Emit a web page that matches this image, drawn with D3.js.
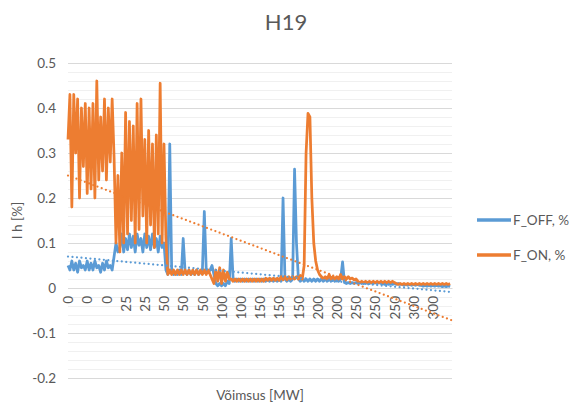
<!DOCTYPE html>
<html>
<head>
<meta charset="utf-8">
<script src="https://cdn.jsdelivr.net/npm/d3@7"></script>
<style>
  body { margin: 0; background: #fff; }
  text { font-family: Lato, "Open Sans", sans-serif; fill: #595959; }
</style>
</head>
<body>
<div id="chart"></div>
<script>
// category labels shown on the x axis (one every 10 points)
var xLabels = ["0", "0", "0", "25", "25", "50", "50", "50", "100", "100", "150", "150", "150", "200", "200", "250", "250", "250", "300", "300"]
var yTickValues = [-0.2, -0.1, 0, 0.1, 0.2, 0.3, 0.4, 0.5]

// F_OFF, %
var offValues = [
  0.05, 0.04, 0.06, 0.04, 0.055, 0.035, 0.06, 0.045, 0.05, 0.04, 0.06, 0.04, 0.055, 0.04, 0.06, 0.045, 0.05, 0.035, 0.055, 0.04, 0.06, 0.045, 0.05, 0.04,
  0.07, 0.1, 0.08,
  0.09, 0.12, 0.08, 0.11, 0.085, 0.12, 0.09, 0.115, 0.08, 0.12, 0.095, 0.11, 0.08, 0.12, 0.09, 0.115, 0.085, 0.12, 0.09, 0.11, 0.08, 0.115, 0.09, 0.1,
  0.04, 0.03,
  0.32,
  0.04, 0.03, 0.035, 0.03, 0.04, 0.03,
  0.11,
  0.035, 0.03, 0.04, 0.03, 0.035, 0.03, 0.04, 0.03, 0.035, 0.04,
  0.17,
  0.04, 0.035, 0.04,
  0.05, 0.03,
  0.01, 0.005, 0.01, 0.005, 0.01, 0.005, 0.015, 0.01,
  0.11,
  0.02, 0.015, 0.02, 0.015, 0.02, 0.015, 0.02, 0.015, 0.02, 0.015, 0.02, 0.015, 0.02, 0.015, 0.02, 0.015, 0.02, 0.015, 0.02, 0.015, 0.02, 0.015, 0.02, 0.015, 0.02, 0.015,
  0.2,
  0.02, 0.015, 0.02, 0.015, 0.02,
  0.264, 0.1, 0.02,
  0.015, 0.02, 0.015, 0.02, 0.015, 0.02, 0.015, 0.02, 0.015, 0.02, 0.015, 0.02, 0.015, 0.02, 0.015, 0.02, 0.015, 0.02, 0.015, 0.02, 0.015, 0.02,
  0.058,
  0.012, 0.01, 0.012, 0.01, 0.012, 0.01, 0.012, 0.01, 0.012, 0.01,
  0.012, 0.01, 0.012, 0.01, 0.012, 0.01, 0.012, 0.01, 0.012, 0.01,
  0.01, 0.008, 0.01, 0.008, 0.01, 0.008, 0.01, 0.008, 0.01, 0.008,
  0.008, 0.006, 0.008, 0.006, 0.008, 0.006, 0.008, 0.006, 0.008, 0.006,
  0.006, 0.004, 0.006, 0.004, 0.006, 0.004, 0.006, 0.004, 0.006, 0.004,
  0.005, 0.003, 0.005, 0.003, 0.005, 0.003
]

// F_ON, %
var onValues = [
  0.33, 0.43, 0.18, 0.43, 0.3, 0.42, 0.2, 0.4, 0.27, 0.41, 0.21, 0.4, 0.22, 0.41, 0.2, 0.46, 0.24, 0.38, 0.26, 0.42, 0.24, 0.4, 0.28, 0.42,
  0.29, 0.1, 0.25, 0.08,
  0.3, 0.1, 0.39, 0.12, 0.37, 0.15, 0.36, 0.1, 0.41, 0.13, 0.42, 0.16, 0.33, 0.1, 0.35, 0.14, 0.32, 0.09, 0.34, 0.12, 0.455, 0.1, 0.32, 0.11,
  0.03,
  0.04, 0.03, 0.04, 0.03, 0.04, 0.03, 0.04, 0.03, 0.04, 0.03, 0.04, 0.03, 0.04, 0.03, 0.04, 0.03, 0.04, 0.03, 0.04, 0.03, 0.04, 0.03,
  0.02, 0.01, 0.04, 0.015, 0.045, 0.01, 0.04, 0.015, 0.035, 0.02,
  0.02, 0.015, 0.02, 0.015, 0.02, 0.015, 0.02, 0.015, 0.02, 0.015,
  0.02, 0.015, 0.02, 0.015, 0.02, 0.015, 0.02, 0.015, 0.022, 0.017,
  0.022, 0.017, 0.022, 0.017, 0.022, 0.017, 0.025, 0.018, 0.025, 0.018,
  0.025, 0.02, 0.025, 0.02, 0.025, 0.02, 0.028, 0.02,
  0.05, 0.3, 0.388, 0.38, 0.2, 0.1, 0.06, 0.04, 0.03,
  0.025, 0.02, 0.025, 0.02, 0.03, 0.02, 0.025, 0.02, 0.025, 0.02, 0.03, 0.02, 0.025, 0.02, 0.025, 0.02, 0.022, 0.018, 0.02,
  0.015, 0.012, 0.015, 0.012, 0.015, 0.012, 0.015, 0.012, 0.015, 0.012, 0.015, 0.012, 0.015, 0.012, 0.015, 0.012, 0.015, 0.012, 0.015, 0.012,
  0.01, 0.008, 0.01, 0.008, 0.01, 0.008, 0.01, 0.008, 0.01, 0.008, 0.01, 0.008, 0.01, 0.008, 0.01, 0.008, 0.01, 0.008, 0.01, 0.008, 0.01, 0.008, 0.01, 0.008, 0.01, 0.008, 0.01, 0.008, 0.01
]

// linear trendline end values (start, end)
var trendOff = [0.07, -0.009]
var trendOn = [0.25, -0.072]

var seriesNames = ["F_OFF, %", "F_ON, %"]
var colors = ["#5B9BD5", "#ED7D31"]

var W = 578, H = 411
var margin = { top: 63, right: 126, bottom: 33, left: 68 },
    width = W - margin.left - margin.right,
    height = H - margin.top - margin.bottom

var svg = d3.select("#chart")
  .append("svg")
  .attr("width", W)
  .attr("height", H)

var g = svg.append("g")
  .attr("transform", "translate(" + margin.left + "," + margin.top + ")")

var n = offValues.length
var x = d3.scaleLinear().domain([0, n]).range([0, width])
var y = d3.scaleLinear().domain([-0.2, 0.5]).range([height, 0])

// minor gridlines
g.append("g")
  .selectAll("line")
  .data(d3.range(-0.2, 0.5001, 0.02))
  .enter().append("line")
  .attr("x1", 0).attr("x2", width)
  .attr("y1", function(d) { return Math.round(y(d)) + 0.5 })
  .attr("y2", function(d) { return Math.round(y(d)) + 0.5 })
  .attr("stroke", "#f0f0f0")

// major gridlines + y labels
var yAxis = g.append("g")
  .call(d3.axisLeft(y).tickValues(yTickValues).tickSize(-width).tickPadding(12)
    .tickFormat(function(d) { return String(+d.toFixed(1)) }))
yAxis.select(".domain").remove()
yAxis.selectAll("line").attr("stroke", "#d9d9d9")
yAxis.selectAll("text")
  .style("font-size", "13.5px")
  .style("font-family", "Lato, sans-serif")
  .attr("fill", "#595959")

// x axis labels at the zero line
var labelStep = n / xLabels.length
var xAxis = g.append("g")
  .attr("transform", "translate(0," + y(0) + ")")
  .call(d3.axisBottom(x)
    .tickValues(d3.range(xLabels.length).map(function(k) { return k * labelStep }))
    .tickSize(0)
    .tickFormat(function(d, k) { return xLabels[k] }))
xAxis.select(".domain").attr("stroke", "#d9d9d9")
xAxis.selectAll("text")
  .attr("transform", "rotate(-90)")
  .attr("x", -8)
  .attr("y", 0)
  .attr("dy", "0.35em")
  .style("text-anchor", "end")
  .style("font-size", "13.5px")
  .style("font-family", "Lato, sans-serif")
  .attr("fill", "#595959")

var line = d3.line()
  .x(function(d, i) { return x(i) })
  .y(function(d) { return y(d) })

// series lines
;[offValues, onValues].forEach(function(vals, s) {
  g.append("path")
    .datum(vals)
    .attr("fill", "none")
    .attr("stroke", colors[s])
    .attr("stroke-width", 2.75)
    .attr("stroke-linejoin", "round")
    .attr("d", line)
})

// dotted trendlines
;[trendOff, trendOn].forEach(function(t, s) {
  g.append("line")
    .attr("x1", x(0)).attr("x2", x(n))
    .attr("y1", y(t[0])).attr("y2", y(t[1]))
    .attr("stroke", colors[s])
    .attr("stroke-width", 2.25)
    .attr("stroke-linecap", "round")
    .attr("stroke-dasharray", "0,4.5")
})

// title + axis titles
svg.append("text")
  .attr("x", 286).attr("y", 30)
  .attr("text-anchor", "middle")
  .style("font-size", "22px")
  .text("H19")

svg.append("text")
  .attr("transform", "translate(22," + (margin.top + height / 2) + ") rotate(-90)")
  .attr("text-anchor", "middle")
  .style("font-size", "13.5px")
  .text("I h [%]")

svg.append("text")
  .attr("x", margin.left + width / 2).attr("y", 400)
  .attr("text-anchor", "middle")
  .style("font-size", "13.5px")
  .text("Võimsus [MW]")

// legend
var legend = svg.append("g")
seriesNames.forEach(function(name, s) {
  var ly = 220 + s * 35
  legend.append("line")
    .attr("x1", 477).attr("x2", 511)
    .attr("y1", ly).attr("y2", ly)
    .attr("stroke", colors[s])
    .attr("stroke-width", 3.5)
  legend.append("text")
    .attr("x", 513).attr("y", ly)
    .attr("dy", "0.35em")
    .style("font-size", "13.5px")
    .text(name)
})
</script>
</body>
</html>
